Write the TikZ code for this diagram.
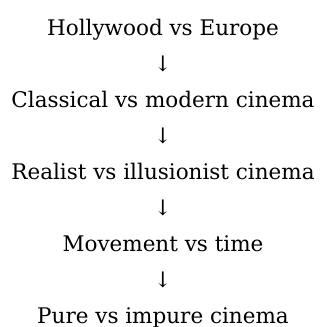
\documentclass[tikz,border=0pt]{standalone}
\usepackage{fontspec}
\setmainfont{DejaVu Serif}
\usepackage{tikz}

\begin{document}
\begin{tikzpicture}[node distance={36pt}, main/.style = {inner sep=0pt, font=\fontsize{21.5}{25}\selectfont, text height=12pt, text depth=4pt}]
		\useasboundingbox (0pt,0pt) rectangle (326pt,-327pt);
		\node[main] (1) at (163pt,-31pt) {Hollywood vs Europe};
		\node[main] (a1) [below of=1] {↓};
		\node[main] (2) [below of=a1] {Classical vs modern cinema};
		\node[main] (a2) [below of=2] {↓};
		\node[main] (3) [below of=a2] {Realist vs illusionist cinema};
		\node[main] (a3) [below of=3] {↓};
		\node[main] (4) [below of=a3] {Movement vs time};
		\node[main] (a4) [below of=4] {↓};
		\node[main] (5) [below of=a4] {Pure vs impure cinema};
	\end{tikzpicture}
\end{document}
